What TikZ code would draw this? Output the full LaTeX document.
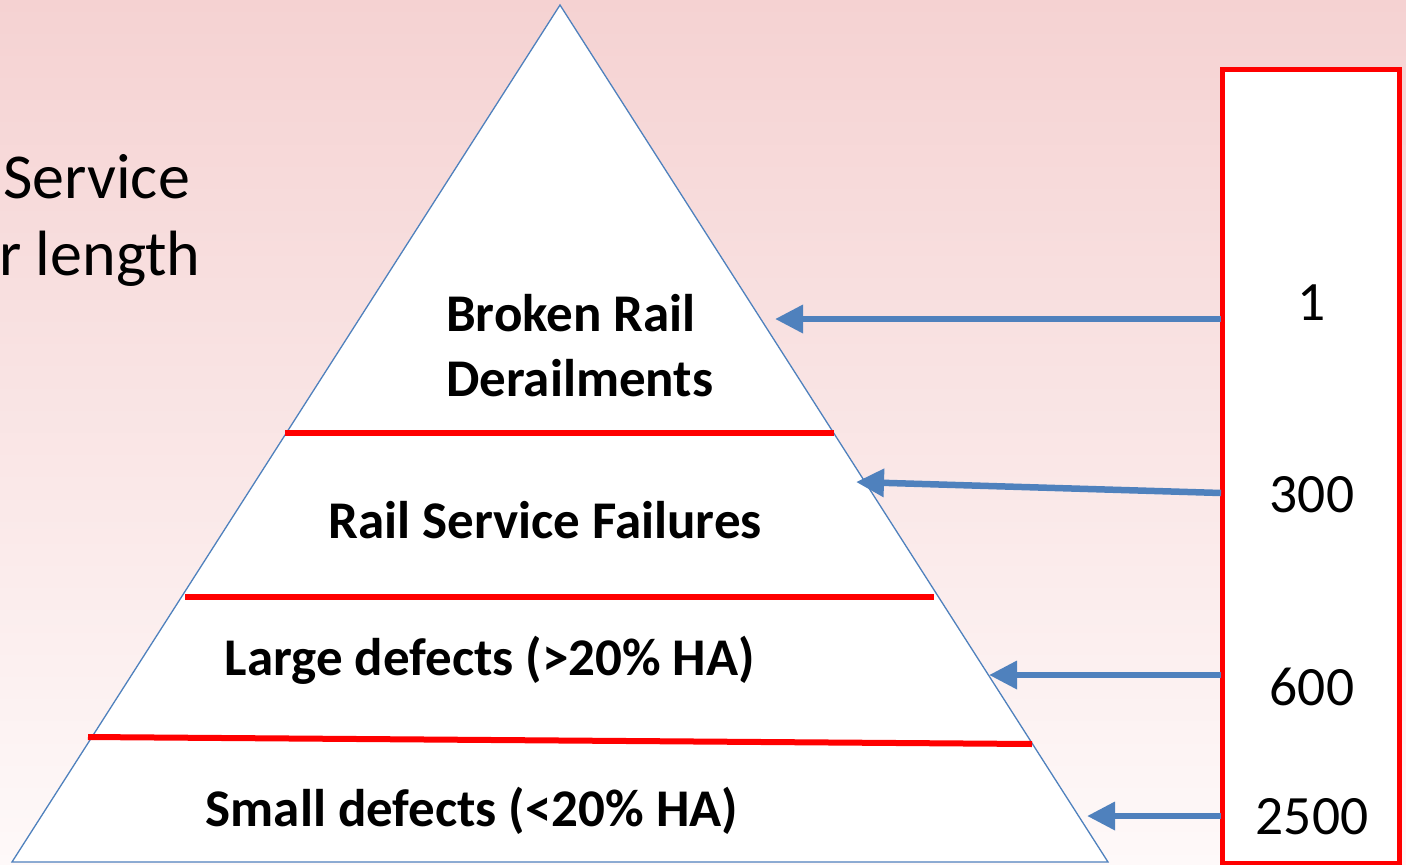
\documentclass[tikz,border=0pt]{standalone}
\usepackage{fontspec}
\setmainfont{Carlito}
\usetikzlibrary{arrows.meta}
\definecolor{bgtop}{RGB}{245,210,210}
\definecolor{bgbot}{RGB}{254,249,249}
\definecolor{triblue}{RGB}{79,129,189}
\definecolor{rred}{RGB}{255,0,0}
\tikzset{
  lbl/.style={font=\fontsize{53}{60}\selectfont\bfseries, inner sep=0pt, anchor=base},
  num/.style={font=\fontsize{55.5}{64}\selectfont, inner sep=0pt, anchor=base},
  side/.style={font=\fontsize{64}{74}\selectfont, inner sep=0pt, anchor=base west},
  sep/.style={draw=rred, line width=6pt},
  pointer/.style={draw=triblue, line width=6.5pt, -{Triangle[length=28pt,width=27pt]}},
}
\begin{document}
\begin{tikzpicture}[x=1pt,y=-1pt]
\useasboundingbox (0,0) rectangle (1406,865);
\shade[top color=bgtop, bottom color=bgbot] (0,0) rectangle (1406,865);
% side text
\node[side] (s1) at (3,198) {Service};
\node[side] (s2) at (-1,275) {r length};
% triangle
\coordinate (apex) at (560,5);
\coordinate (bl) at (12,862);
\coordinate (br) at (1108,862);
\draw[triblue, line width=1.3pt, fill=white, line join=miter] (apex) -- (br) -- (bl) -- cycle;
% separators
\coordinate (r1a) at (285,433); \coordinate (r1b) at (834,433);
\coordinate (r2a) at (185,597); \coordinate (r2b) at (934,597);
\coordinate (r3a) at (88,737);  \coordinate (r3b) at (1032,744);
\draw[sep] (r1a) -- (r1b);
\draw[sep] (r2a) -- (r2b);
\draw[sep] (r3a) -- (r3b);
% labels
\node[lbl, anchor=base west] (t1) at (446,331) {Broken Rail};
\node[lbl, anchor=base west] (t2) at (446,396) {Derailments};
\node[lbl] (t3) at (545,538) {Rail Service Failures};
\node[lbl] (t4) at (490,675) {Large defects (>20\% HA)};
\node[lbl] (t5) at (472,826) {Small defects (<20\% HA)};
% box
\draw[rred, line width=5pt, fill=white] (1222,69) rectangle (1399,863);
\node[num] (n1) at (1312,320) {1};
\node[num] (n2) at (1312,512) {300};
\node[num] (n3) at (1312,705) {600};
\node[num] (n4) at (1312,834) {2500};
% arrows
\coordinate (a1s) at (1221,319); \coordinate (a1e) at (775,319);
\coordinate (a2s) at (1221,493); \coordinate (a2e) at (856,482);
\coordinate (a3s) at (1221,675); \coordinate (a3e) at (989,675);
\coordinate (a4s) at (1221,816); \coordinate (a4e) at (1087,816);
\draw[pointer] (a1s) -- (a1e);
\draw[pointer] (a2s) -- (a2e);
\draw[pointer] (a3s) -- (a3e);
\draw[pointer] (a4s) -- (a4e);
\end{tikzpicture}
\end{document}
